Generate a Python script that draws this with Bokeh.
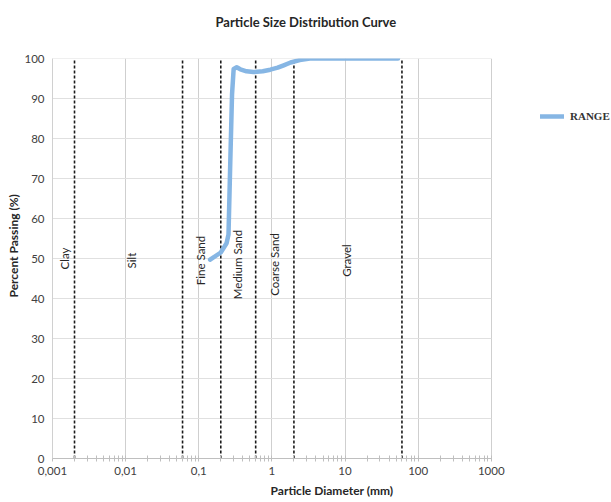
import math
from bokeh.plotting import figure
from bokeh.models import (ColumnDataSource, FixedTicker, Legend, LegendItem, Title, Range1d)
from bokeh.embed import file_html
from bokeh.resources import INLINE
from bokeh.core.properties import value

# ---- data ----
diameter_mm = [0.143, 0.2, 0.24, 0.255, 0.27, 0.285, 0.3, 0.33, 0.37, 0.45, 0.56,
               0.75, 0.95, 1.2, 1.45, 1.8, 2.4, 3.3, 10, 53]
percent_passing = [49.7, 51.5, 53.8, 56.0, 74.5, 91.0, 97.4, 97.8, 97.3, 96.8, 96.6,
                   96.8, 97.2, 97.7, 98.3, 99.0, 99.6, 100, 100, 100]

boundaries_mm = [0.002, 0.06, 0.2, 0.6, 2, 60]

zone_names = ["Clay", "Silt", "Fine Sand", "Medium Sand", "Coarse Sand", "Gravel"]
zone_x = [0.00144, 0.0119, 0.104, 0.34, 1.1, 10.6]
zone_y = [50, 49.5, 49.5, 48.5, 48.5, 49.5]

x_ticks = [0.001, 0.01, 0.1, 1, 10, 100, 1000]
x_tick_labels = ["0,001", "0,01", "0,1", "1", "10", "100", "1000"]
y_ticks = list(range(0, 101, 10))

FONT = "Lato"

# the frame runs to the right edge so the legend (outside the axis span) is not clipped;
# the axis, grid and marks are bounded to 0.001..1000
X_END = 4.4e4

p = figure(width=611, height=500, x_axis_type="log",
           x_range=Range1d(x_ticks[0], X_END), y_range=Range1d(0, 100),
           output_backend="svg", toolbar_location=None,
           min_border_left=52, min_border_right=0, min_border_top=58,
           min_border_bottom=42)
p.outline_line_color = None
p.background_fill_color = "white"
p.border_fill_color = "white"

# grids
p.xgrid.grid_line_color = "#cfcfcf"
p.ygrid.grid_line_color = None
gsrc = ColumnDataSource(dict(y=y_ticks[1:],
                             x0=[x_ticks[0]] * (len(y_ticks) - 1),
                             x1=[x_ticks[-1]] * (len(y_ticks) - 1)))
p.segment(x0="x0", y0="y", x1="x1", y1="y", source=gsrc,
          line_color="#e0e0e0", line_width=1)

# x axis
minor = [m * d for d in x_ticks[:-1] for m in range(2, 10)]
p.xaxis.ticker = FixedTicker(ticks=x_ticks, minor_ticks=minor)
p.xaxis.bounds = (x_ticks[0], x_ticks[-1])
p.xaxis.major_label_overrides = {t: l for t, l in zip(x_ticks, x_tick_labels)}
p.xaxis.axis_line_color = "#bfbfbf"
p.xaxis.major_tick_line_color = "#bfbfbf"
p.xaxis.major_tick_in = 3
p.xaxis.major_tick_out = 3
p.xaxis.minor_tick_line_color = "#bfbfbf"
p.xaxis.minor_tick_in = 3
p.xaxis.minor_tick_out = 3
p.xaxis.major_label_text_font = FONT
p.xaxis.major_label_text_font_size = "11.5px"
p.xaxis.major_label_text_color = "#404040"
p.xaxis.major_label_standoff = 5
p.xaxis.axis_label = "Particle Diameter (mm)"
p.xaxis.axis_label_text_font = FONT
p.xaxis.axis_label_text_font_size = "12px"
p.xaxis.axis_label_text_font_style = "bold"
p.xaxis.axis_label_text_color = "#262626"
p.xaxis.axis_label_standoff = 5

# y axis
p.yaxis.ticker = FixedTicker(ticks=y_ticks)
p.yaxis.axis_line_color = "#d0d0d0"
p.yaxis.major_tick_line_color = None
p.yaxis.major_tick_out = 0
p.yaxis.major_tick_in = 0
p.yaxis.minor_tick_line_color = None
p.yaxis.minor_tick_out = 0
p.yaxis.minor_tick_in = 0
p.yaxis.major_label_text_font = FONT
p.yaxis.major_label_text_font_size = "11.5px"
p.yaxis.major_label_text_color = "#404040"
p.yaxis.major_label_standoff = 8

# y axis title (placed slightly above the frame's middle, as in the reference)
p.add_layout(Title(text="Percent Passing (%)", align="left", offset=161,
                   standoff=2, text_font=FONT, text_font_size="12px",
                   text_font_style="bold", text_color="#262626"), "left")

# boundary dashed lines
bsrc = ColumnDataSource(dict(x=boundaries_mm,
                             y0=[0] * len(boundaries_mm),
                             y1=[100] * len(boundaries_mm)))
p.segment(x0="x", y0="y0", x1="x", y1="y1", source=bsrc,
          line_color="#1a1a1a", line_width=1.6, line_dash="3 2")

# zone labels
zsrc = ColumnDataSource(dict(x=zone_x, y=zone_y, t=zone_names))
p.text(x="x", y="y", text="t", source=zsrc, angle=math.pi / 2,
       text_align="center", text_baseline="middle",
       text_font=value(FONT), text_font_size="11.5px", text_color="#262626")

# curve
csrc = ColumnDataSource(dict(x=diameter_mm, y=percent_passing))
r = p.line(x="x", y="y", source=csrc, line_color="#86b6e4", line_width=4.5,
           line_join="round", line_cap="round")

legend = Legend(items=[LegendItem(label="RANGE", renderers=[r])],
                location=(478, 322), orientation="vertical", margin=0, padding=10,
                background_fill_alpha=0, border_line_alpha=0,
                label_text_font="Liberation Serif",
                label_text_font_style="bold", label_text_font_size="11px",
                label_text_color="#333333", glyph_width=24, glyph_height=20,
                label_standoff=6)
p.add_layout(legend, "center")

# spacer panel between frame and title
p.add_layout(Title(text=" ", text_font_size="10px", standoff=14), "above")

p.title.text = "Particle Size Distribution Curve"
p.title.align = "left"
p.title.offset = 163
p.title.standoff = 4
p.title.text_font = FONT
p.title.text_font_size = "13px"
p.title.text_font_style = "bold"
p.title.text_color = "#262626"

open("out.html", "w").write(file_html(p, INLINE))
